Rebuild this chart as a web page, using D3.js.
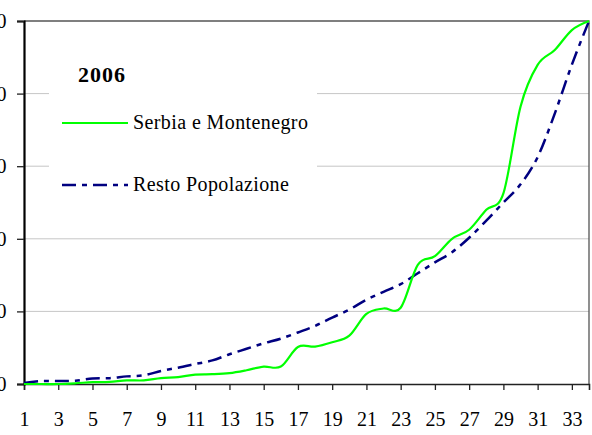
<!DOCTYPE html>
<html>
<head>
<meta charset="utf-8">
<script src="https://cdn.jsdelivr.net/npm/d3@7"></script>
<style>
    body { margin: 0; background: #fff; }
    svg { display: block; font-family: "Liberation Serif", "Times New Roman", serif; }
</style>
</head>
<body>
<div id="chart-container"></div>
<script>
// x categories 1..34
const categories = [1, 2, 3, 4, 5, 6, 7, 8, 9, 10, 11, 12, 13, 14, 15, 16, 17,
    18, 19, 20, 21, 22, 23, 24, 25, 26, 27, 28, 29, 30, 31, 32, 33, 34];
const xTickLabels = [1, 3, 5, 7, 9, 11, 13, 15, 17, 19, 21, 23, 25, 27, 29, 31, 33];
const yTickLabels = [0, 20, 40, 60, 80, 100];

// cumulative share (%)
const serbia = [0, 0, 0, 0.2, 0.5, 0.6, 1.0, 1.0, 1.6, 1.9, 2.6, 2.7, 3.0, 3.8, 4.8, 4.8, 10.2,
    10.3, 11.5, 13.3, 19.3, 20.8, 21.0, 32.8, 35.2, 40.0, 42.5, 48.0, 52.5, 76.4, 87.9, 92.0, 97.5, 100];
const resto = [0.3, 0.8, 0.8, 0.9, 1.5, 1.6, 2.1, 2.4, 3.6, 4.5, 5.5, 6.5, 8.2, 9.7, 11.2, 12.5, 14.2,
    16.0, 18.3, 20.5, 23.2, 25.4, 27.5, 30.5, 33.5, 36.3, 40.3, 45.0, 50.0, 55.0, 62.5, 74.5, 88.0, 100];

const seriesNames = ["Serbia e Montenegro", "Resto Popolazione"];
const title = "2006";

const w = 592;
const h = 435;
const padLeft = 24, padRight = 589, padTop = 21, padBottom = 384;
const fontFam = '"Liberation Serif", "Times New Roman", serif';

const svg = d3.select('#chart-container')
    .append('svg')
    .attr('width', w)
    .attr('height', h);

const xScale = d3.scaleLinear()
    .domain([categories[0], categories[categories.length - 1]])
    .range([padLeft, padRight]);

const yScale = d3.scaleLinear()
    .domain([0, 100])
    .range([padBottom, padTop]);

// gridlines
svg.append('g')
    .selectAll('line')
    .data(yTickLabels.slice(1, -1))
    .enter()
    .append('line')
    .attr('x1', padLeft)
    .attr('x2', padRight)
    .attr('y1', d => yScale(d))
    .attr('y2', d => yScale(d))
    .attr('stroke', '#c6c6c6')
    .attr('stroke-width', 1);

// plot border top / right
svg.append('path')
    .attr('d', `M${padLeft},${yScale(100)}H${padRight}V${yScale(0)}`)
    .attr('fill', 'none')
    .attr('stroke', '#555')
    .attr('stroke-width', 1.3);

// legend box (hides gridlines behind)
svg.append('rect')
    .attr('x', 49)
    .attr('y', 38)
    .attr('width', 268)
    .attr('height', 166)
    .attr('fill', '#fff');

// axes
const xAxis = d3.axisBottom(xScale).tickValues(xTickLabels).tickSize(6).tickPadding(22).tickFormat(d3.format('d'));
const yAxis = d3.axisLeft(yScale).tickValues(yTickLabels).tickSize(7).tickPadding(10);

const gx = svg.append('g')
    .attr('id', 'x-axis')
    .attr('transform', 'translate(0,' + padBottom + ')')
    .call(xAxis)
    .attr('font-family', fontFam)
    .attr('font-size', 20);
gx.select('.domain').attr('stroke', '#222').attr('stroke-width', 1.6);
gx.selectAll('.tick line').attr('stroke', '#222').attr('stroke-width', 1.3);
gx.selectAll('text').attr('fill', '#000');

const gy = svg.append('g')
    .attr('id', 'y-axis')
    .attr('transform', 'translate(' + padLeft + ',0)')
    .call(yAxis)
    .attr('font-family', fontFam)
    .attr('font-size', 20);
gy.select('.domain').attr('stroke', '#000').attr('stroke-width', 2.2);
gy.selectAll('.tick line').attr('stroke', '#222').attr('stroke-width', 1.3);
gy.selectAll('text').attr('fill', '#000').attr('x', -17.5);

// lines
const line = (values) => d3.line()
    .x((d, i) => xScale(categories[i]))
    .y(d => yScale(d))
    .curve(d3.curveCardinal.tension(0))(values);

svg.append('path')
    .attr('d', line(resto))
    .attr('fill', 'none')
    .attr('stroke', '#000080')
    .attr('stroke-width', 2.5)
    .attr('stroke-dasharray', '14,6,5,6');

svg.append('path')
    .attr('d', line(serbia))
    .attr('fill', 'none')
    .attr('stroke', '#00ff00')
    .attr('stroke-width', 2.2);

// legend
svg.append('text')
    .attr('x', 78)
    .attr('y', 82)
    .attr('font-family', fontFam)
    .attr('font-size', 22)
    .attr('font-weight', 'bold')
    .attr('letter-spacing', 1)
    .text(title);

const legendRows = [
    { name: seriesNames[0], color: '#00ff00', width: 2.2, dash: null, y: 123 },
    { name: seriesNames[1], color: '#000080', width: 2.5, dash: '14,6,5,6', y: 185 }
];

legendRows.forEach(r => {
    svg.append('line')
        .attr('x1', 62)
        .attr('x2', 128)
        .attr('y1', r.y)
        .attr('y2', r.y)
        .attr('stroke', r.color)
        .attr('stroke-width', r.width)
        .attr('stroke-dasharray', r.dash);
    svg.append('text')
        .attr('x', 133)
        .attr('y', r.y + 6)
        .attr('font-family', fontFam)
        .attr('font-size', 20)
        .attr('letter-spacing', 0.4)
        .text(r.name);
});
</script>
</body>
</html>
